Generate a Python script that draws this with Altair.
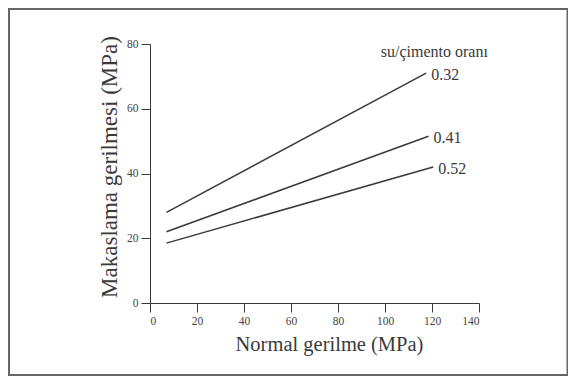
import altair as alt
import pandas as pd

# Data
ratios = ["0.32", "0.41", "0.52"]
x_start = [7, 7, 7]
y_start = [28, 22, 18.5]
x_end = [117.5, 118.5, 120.5]
y_end = [71, 51.5, 42]

legend_title = "su/çimento oranı"
legend_x = [121]
legend_y = [77.5]

y_title = "Makaslama gerilmesi (MPa)"
x_title = "Normal gerilme (MPa)"

rows = []
for r, xs, ys, xe, ye in zip(ratios, x_start, y_start, x_end, y_end):
    rows.append({"ratio": r, "x": xs, "y": ys, "end": False})
    rows.append({"ratio": r, "x": xe, "y": ye, "end": True})
df = pd.DataFrame(rows)
ends = df[df["end"]]

FONT = "Liberation Serif"
INK = "#3a3a3a"

xscale = alt.Scale(domain=[0, 140], nice=False, zero=False)
yscale = alt.Scale(domain=[0, 80], nice=False, zero=False)

xaxis = alt.Axis(values=[0, 20, 40, 60, 80, 100, 120, 140], title=x_title,
                 titleX=179, titleY=31, titleBaseline="top", titleAlign="center",
                 titleFontSize=20.5)
yaxis = alt.Axis(values=[0, 20, 40, 60, 80], title=None)

lines = alt.Chart(df).mark_line(color=INK, strokeWidth=1.5).encode(
    x=alt.X("x:Q", scale=xscale, axis=xaxis),
    y=alt.Y("y:Q", scale=yscale, axis=yaxis),
    detail="ratio:N",
)

labels = alt.Chart(ends).mark_text(align="left", baseline="middle", dx=5, dy=2,
                                   font=FONT, fontSize=16, color=INK).encode(
    x=alt.X("x:Q", scale=xscale),
    y=alt.Y("y:Q", scale=yscale),
    text="ratio:N",
)

ltitle = alt.Chart(pd.DataFrame({"x": legend_x, "y": legend_y, "t": [legend_title]})).mark_text(
    align="center", baseline="middle", font=FONT, fontSize=16, color=INK).encode(
    x=alt.X("x:Q", scale=xscale),
    y=alt.Y("y:Q", scale=yscale),
    text="t:N",
)

ytitle = alt.Chart(alt.Data(values=[{"t": y_title}])).mark_text(
    angle=270, align="center", baseline="middle", font=FONT, fontSize=23, color=INK).encode(
    x=alt.value(-40), y=alt.value(123), text="t:N",
)

frame = alt.Chart(alt.Data(values=[{}])).mark_rect(
    fill=None, stroke="#666666", strokeWidth=2).encode(
    x=alt.value(-141), x2=alt.value(417.5), y=alt.value(-35), y2=alt.value(331),
)

chart = alt.layer(frame, lines, labels, ltitle, ytitle).properties(
    width=329, height=259,
    autosize=alt.AutoSizeParams(type="none"),
    padding={"left": 142, "top": 36, "right": 89, "bottom": 73},
).configure_view(stroke=None).configure_axis(
    grid=False,
    domainColor=INK, tickColor=INK, domainWidth=1, tickWidth=1, tickSize=9,
    labelFont=FONT, labelFontSize=11.5, labelColor="#444444", labelPadding=3,
    titleFont=FONT, titleFontWeight="normal", titleColor=INK,
)

chart.save("out.html", embed_options={"renderer": "svg", "actions": False})
